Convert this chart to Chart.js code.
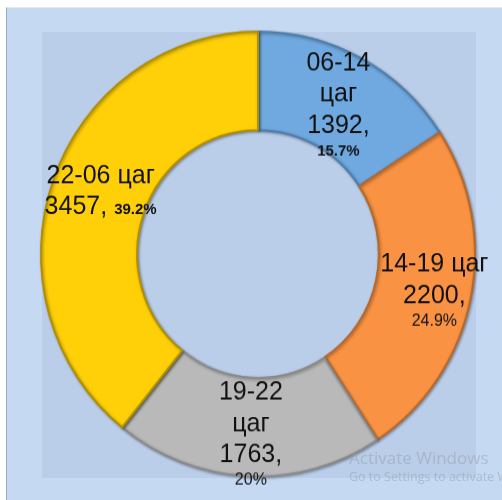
<!DOCTYPE html>
<html>
<head>
<meta charset="utf-8">
<script src="https://cdn.jsdelivr.net/npm/chart.js@4/dist/chart.umd.min.js"></script>
<style>
  html, body { margin: 0; padding: 0; background: #fff; }
  body { width: 502px; height: 500px; position: relative; overflow: hidden; font-family: "Liberation Sans", Arial, sans-serif; }
  #frame { position: absolute; left: 6px; top: 7px; width: 496px; height: 493px; background: #c6d9f3; border-left: 1px solid #98a8c0; border-top: 1px solid #e2eaf6; box-sizing: border-box; }
  #plot { position: absolute; left: 42px; top: 32px; width: 434px; height: 446px; background: #bacde9; }
  #wrap { position: absolute; left: 0; top: 0; width: 502px; height: 500px; transform-origin: 258px 254px; transform: scaleY(1.025); }
  .wm { position: absolute; left: 349px; color: rgba(150, 160, 175, 0.5); white-space: nowrap; font-family: "Open Sans", "Noto Sans", sans-serif; }
</style>
</head>
<body>
<div id="frame"></div>
<div id="plot"></div>
<div id="wrap"><canvas id="chart" width="502" height="500"></canvas></div>
<div class="wm" style="top:446px;font-size:17px;">Activate Windows</div>
<div class="wm" style="top:468px;font-size:12.5px;">Go to Settings to activate Windows.</div>
<script>
// data
var categories = ['06-14 цаг', '14-19 цаг', '19-22 цаг', '22-06 цаг'];
var counts = [1392, 2200, 1763, 3457];
var percentLabels = ['15.7%', '24.9%', '20%', '39.2%'];

var sliceColors = ['#6fa9e0', '#f99343', '#b9b9b9', '#ffd008'];
var sliceBorders = ['#4f7fae', '#b8682c', '#8a8a8a', '#b08f00'];

// how each data label wraps, plus small nudges to sit where excel put them
var labelLayout = [
    { split: true,  pctInline: false, pctBold: true,  dx: 0,  dy: 2 },
    { split: false, pctInline: false, pctBold: false, dx: 11, dy: 0 },
    { split: true,  pctInline: false, pctBold: false, dx: 1,  dy: 6 },
    { split: false, pctInline: true,  pctBold: true,  dx: 2,  dy: -7 }
];

var fonts = {
    main: '25px "Liberation Sans", Arial, sans-serif',
    bold: 'bold 15px "Liberation Sans", Arial, sans-serif',
    small: '16px "Liberation Sans", Arial, sans-serif'
};

function buildLines(i) {
    var opt = labelLayout[i];
    var lines = [];
    if (opt.split) {
        categories[i].split(' ').forEach(function (w) { lines.push([[w, 'main']]); });
    } else {
        lines.push([[categories[i], 'main']]);
    }
    var pct = [percentLabels[i], opt.pctBold ? 'bold' : 'small'];
    if (opt.pctInline) {
        lines.push([[counts[i] + ', ', 'main'], pct]);
    } else {
        lines.push([[counts[i] + ',', 'main']]);
        lines.push([pct]);
    }
    return lines;
}

var shadowPlugin = {
    id: 'sliceShadow',
    beforeDatasetsDraw: function (chart) {
        var c = chart.ctx;
        c.save();
        c.shadowColor = 'rgba(0,0,0,0.35)';
        c.shadowBlur = 3;
        c.shadowOffsetX = 1;
        c.shadowOffsetY = 1;
    },
    afterDatasetsDraw: function (chart) {
        chart.ctx.restore();
    }
};

var labelPlugin = {
    id: 'sliceLabels',
    afterDatasetsDraw: function (chart) {
        var ctx = chart.ctx;
        var meta = chart.getDatasetMeta(0);
        meta.data.forEach(function (arc, i) {
            var p = arc.tooltipPosition();
            var opt = labelLayout[i];
            var lines = buildLines(i);
            // baselines
            var base = [0];
            for (var k = 1; k < lines.length; k++) {
                var hasMain = lines[k].some(function (r) { return r[1] === 'main'; });
                base.push(base[k - 1] + (hasMain ? 30.5 : 22));
            }
            var top = -18, bottom = base[base.length - 1];
            var y0 = p.y + opt.dy - (top + bottom) / 2;
            ctx.save();
            ctx.fillStyle = '#111';
            ctx.textBaseline = 'alphabetic';
            ctx.textAlign = 'left';
            lines.forEach(function (line, k) {
                var w = 0;
                line.forEach(function (r) { ctx.font = fonts[r[1]]; w += ctx.measureText(r[0]).width; });
                var x = p.x + opt.dx - w / 2;
                line.forEach(function (r) {
                    ctx.font = fonts[r[1]];
                    ctx.fillText(r[0], x, y0 + base[k]);
                    x += ctx.measureText(r[0]).width;
                });
            });
            ctx.restore();
        });
    }
};

var ctx = document.getElementById('chart').getContext('2d');
new Chart(ctx, {
    type: 'doughnut',
    data: {
        labels: categories,
        datasets: [{
            data: counts,
            backgroundColor: sliceColors,
            borderColor: sliceBorders,
            borderWidth: 2
        }]
    },
    options: {
        responsive: false,
        animation: false,
        events: [],
        cutout: '55.7%',
        layout: { padding: { left: 40, top: 36, right: 26, bottom: 28 } },
        plugins: {
            legend: { display: false },
            tooltip: { enabled: false }
        }
    },
    plugins: [shadowPlugin, labelPlugin]
});
</script>
</body>
</html>
